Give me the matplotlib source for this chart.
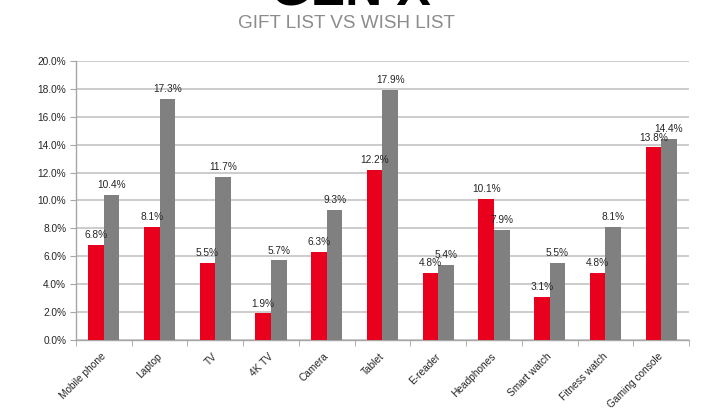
import matplotlib
matplotlib.use("Agg")
import matplotlib.pyplot as plt
import matplotlib.transforms as mtransforms
import numpy as np
from matplotlib.ticker import FuncFormatter, FixedLocator

categories = ["Mobile phone", "Laptop", "TV", "4K TV", "Camera", "Tablet",
              "E-reader", "Headphones", "Smart watch", "Fitness watch", "Gaming console"]
gift_list = [6.8, 8.1, 5.5, 1.9, 6.3, 12.2, 4.8, 10.1, 3.1, 4.8, 13.8]
wish_list = [10.4, 17.3, 11.7, 5.7, 9.3, 17.9, 5.4, 7.9, 5.5, 8.1, 14.4]
y_ticks = [0, 2, 4, 6, 8, 10, 12, 14, 16, 18, 20]

plt.rcParams['font.family'] = ['Liberation Sans', 'DejaVu Sans']

RED = '#E8001C'
GRAY = '#808080'
TXT = '#262626'

fig = plt.figure(figsize=(7.26, 4.2), dpi=100)
ax = fig.add_axes([0.1047, 0.1905, 0.949 - 0.1047, 0.8548 - 0.1905])

x = np.arange(len(categories))
w = 0.28
b1 = ax.bar(x - w / 2, gift_list, w, color=RED, zorder=3)
b2 = ax.bar(x + w / 2, wish_list, w, color=GRAY, zorder=3)

for bars, vals in ((b1, gift_list), (b2, wish_list)):
    for r, v in zip(bars, vals):
        ax.annotate(f"{v:.1f}%", (r.get_x() + r.get_width() / 2, v),
                    xytext=(0, 3.5), textcoords='offset points',
                    ha='center', va='bottom', fontsize=7.3, color=TXT, zorder=4)

ax.set_xlim(-0.5, len(categories) - 0.5)
ax.set_ylim(0, 20)
ax.set_yticks(y_ticks)
ax.yaxis.set_major_formatter(FuncFormatter(lambda v, p: f"{v:.1f}%"))
ax.grid(axis='y', color='#BFBFBF', linewidth=1.1, zorder=0)
ax.set_axisbelow(True)

ax.set_xticks(x)
ax.set_xticklabels(categories, rotation=45, ha='right', rotation_mode='anchor',
                   fontsize=7.3, color=TXT)
ax.tick_params(axis='x', which='major', length=0, pad=8)
offset = mtransforms.ScaledTranslation(-3 / 100, 0, fig.dpi_scale_trans)
for lbl in ax.get_xticklabels():
    lbl.set_transform(lbl.get_transform() + offset)
ax.xaxis.set_minor_locator(FixedLocator(np.arange(-0.5, len(categories), 1.0)))
ax.tick_params(axis='x', which='minor', length=4, color='#A6A6A6', direction='out')
ax.tick_params(axis='y', length=4, color='#A6A6A6', labelsize=7.3, labelcolor=TXT, pad=3)

for s in ('top', 'right'):
    ax.spines[s].set_visible(False)
for s in ('left', 'bottom'):
    ax.spines[s].set_color('#A6A6A6')
    ax.spines[s].set_linewidth(1.0)

fig.text(0.483, 1 - 5 / 420, "GEN X", ha='center', va='baseline',
         fontsize=37, fontweight='bold', color='black')
fig.text(0.477, 1 - 28 / 420, "GIFT LIST VS WISH LIST", ha='center', va='baseline',
         fontsize=13.6, color='#8C8C8C')

fig.savefig("out.png", dpi=100)
